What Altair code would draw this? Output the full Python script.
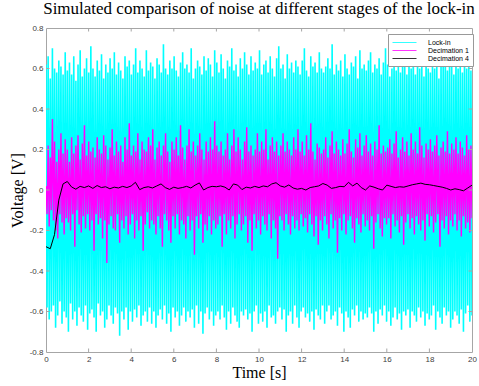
import altair as alt
import pandas as pd
import numpy as np

title_text = "Simulated comparison of noise at different stages of the lock-in"
series_names = ["Lock-in", "Decimation 1", "Decimation 4"]
series_colors = ["#00FFFF", "#FF00FF", "#000000"]
x_ticks = [0, 2, 4, 6, 8, 10, 12, 14, 16, 18, 20]
y_ticks = [-0.8, -0.6, -0.4, -0.2, 0, 0.2, 0.4, 0.6, 0.8]
t_end = 20

lockin = [
    0.62, -0.58, 0.66, -0.64, 0.55, -0.6, 0.7, -0.57, 0.6, -0.68, 0.58, -0.62, 0.64, -0.55, 0.61, -0.66, 0.57, -0.6, 0.68, -0.63,
    0.59, -0.7, 0.63, -0.56, 0.57, -0.64, 0.66, -0.6, 0.54, -0.67, 0.62, -0.58, 0.69, -0.62, 0.56, -0.65, 0.6, -0.57, 0.65, -0.69,
    0.58, -0.61, 0.71, -0.59, 0.6, -0.63, 0.56, -0.7, 0.64, -0.56, 0.59, -0.62, 0.67, -0.6, 0.55, -0.68, 0.62, -0.64, 0.58, -0.57,
    0.65, -0.62, 0.6, -0.66, 0.68, -0.58, 0.57, -0.61, 0.63, -0.72, 0.59, -0.6, 0.55, -0.64, 0.66, -0.58, 0.61, -0.69, 0.64, -0.6,
    0.57, -0.65, 0.62, -0.59, 0.7, -0.63, 0.58, -0.57, 0.64, -0.67, 0.6, -0.62, 0.56, -0.6, 0.69, -0.65, 0.59, -0.58, 0.63, -0.66,
    0.61, -0.6, 0.55, -0.68, 0.65, -0.62, 0.62, -0.59, 0.58, -0.64, 0.72, -0.57, 0.6, -0.66, 0.57, -0.61, 0.64, -0.7, 0.6, -0.58,
    0.66, -0.63, 0.59, -0.6, 0.56, -0.67, 0.63, -0.62, 0.68, -0.58, 0.6, -0.65, 0.62, -0.6, 0.58, -0.63, 0.7, -0.59, 0.55, -0.68,
    0.6, -0.57, 0.64, -0.66, 0.61, -0.6, 0.57, -0.71, 0.66, -0.61, 0.59, -0.58, 0.65, -0.64, 0.62, -0.6, 0.56, -0.67, 0.69, -0.62,
    0.63, -0.6, 0.58, -0.64, 0.67, -0.57, 0.6, -0.63, 0.55, -0.69, 0.64, -0.6, 0.61, -0.66, 0.7, -0.58, 0.59, -0.62, 0.62, -0.65,
    0.56, -0.68, 0.65, -0.6, 0.6, -0.62, 0.68, -0.59, 0.62, -0.64, 0.57, -0.61, 0.66, -0.7, 0.59, -0.6, 0.63, -0.57, 0.6, -0.66,
    0.69, -0.61, 0.57, -0.65, 0.62, -0.6, 0.64, -0.68, 0.58, -0.57, 0.66, -0.63, 0.6, -0.62, 0.56, -0.66, 0.65, -0.6, 0.71, -0.58,
    0.6, -0.64, 0.62, -0.59, 0.55, -0.7, 0.67, -0.62, 0.6, -0.6, 0.63, -0.66, 0.58, -0.57, 0.64, -0.63, 0.61, -0.68, 0.57, -0.6,
    0.64, -0.58, 0.7, -0.63, 0.59, -0.61, 0.56, -0.65, 0.66, -0.6, 0.61, -0.69, 0.63, -0.59, 0.58, -0.62, 0.68, -0.64, 0.6, -0.57,
    0.58, -0.66, 0.61, -0.6, 0.65, -0.57, 0.6, -0.64, 0.72, -0.62, 0.57, -0.6, 0.62, -0.67, 0.59, -0.58, 0.64, -0.61, 0.56, -0.7,
    0.67, -0.6, 0.6, -0.63, 0.57, -0.68, 0.63, -0.59, 0.61, -0.62, 0.66, -0.57, 0.55, -0.65, 0.69, -0.6, 0.6, -0.64, 0.62, -0.61,
    0.59, -0.63, 0.64, -0.58, 0.68, -0.61, 0.58, -0.7, 0.62, -0.6, 0.6, -0.66, 0.65, -0.59, 0.57, -0.62, 0.63, -0.57, 0.7, -0.65,
    0.62, -0.6, 0.56, -0.67, 0.6, -0.63, 0.67, -0.58, 0.59, -0.64, 0.63, -0.61, 0.58, -0.69, 0.66, -0.6, 0.61, -0.62, 0.57, -0.59,
    0.65, -0.68, 0.6, -0.6, 0.71, -0.62, 0.57, -0.65, 0.64, -0.58, 0.6, -0.63, 0.62, -0.6, 0.56, -0.67, 0.68, -0.61, 0.6, -0.64,
    0.58, -0.62, 0.63, -0.57, 0.6, -0.69, 0.66, -0.6, 0.55, -0.63, 0.64, -0.66, 0.61, -0.58, 0.69, -0.62, 0.59, -0.6, 0.65, -0.68,
    0.61, -0.64, 0.57, -0.6, 0.67, -0.62, 0.6, -0.66, 0.63, -0.59, 0.58, -0.7, 0.66, -0.61, 0.6, -0.57, 0.64, -0.65, 0.59, -0.62,
]

decimation1 = [
    0.02, -0.12, 0.22, -0.18, 0.16, -0.1, 0.35, -0.15, 0.24, -0.2, 0.14, -0.24, 0.2, -0.12, 0.28, -0.16, 0.18, -0.22, 0.25, -0.14,
    0.2, -0.16, 0.14, -0.2, 0.26, -0.12, 0.18, -0.28, 0.22, -0.1, 0.27, -0.17, 0.15, -0.21, 0.23, -0.13, 0.32, -0.19, 0.17, -0.12,
    0.24, -0.2, 0.19, -0.15, 0.21, -0.3, 0.16, -0.12, 0.26, -0.17, 0.2, -0.14, 0.18, -0.24, 0.27, -0.15, 0.22, -0.36, 0.15, -0.17,
    0.21, -0.13, 0.3, -0.19, 0.17, -0.2, 0.24, -0.12, 0.19, -0.26, 0.22, -0.15, 0.14, -0.19, 0.26, -0.13, 0.2, -0.22, 0.33, -0.17,
    0.17, -0.12, 0.22, -0.24, 0.19, -0.15, 0.28, -0.2, 0.15, -0.13, 0.24, -0.3, 0.2, -0.17, 0.19, -0.11, 0.26, -0.19, 0.22, -0.15,
    0.3, -0.17, 0.15, -0.22, 0.21, -0.13, 0.24, -0.19, 0.17, -0.28, 0.22, -0.12, 0.28, -0.15, 0.19, -0.2, 0.14, -0.26, 0.24, -0.13,
    0.2, -0.19, 0.26, -0.12, 0.17, -0.22, 0.32, -0.15, 0.21, -0.17, 0.15, -0.24, 0.22, -0.13, 0.3, -0.2, 0.19, -0.15, 0.24, -0.32,
    0.17, -0.13, 0.22, -0.19, 0.28, -0.12, 0.2, -0.26, 0.15, -0.17, 0.24, -0.2, 0.19, -0.13, 0.26, -0.22, 0.2, -0.15, 0.34, -0.19,
    0.22, -0.17, 0.19, -0.13, 0.24, -0.28, 0.17, -0.12, 0.2, -0.22, 0.28, -0.15, 0.15, -0.19, 0.22, -0.13, 0.3, -0.24, 0.19, -0.17,
    0.26, -0.12, 0.2, -0.2, 0.15, -0.17, 0.24, -0.13, 0.31, -0.26, 0.19, -0.15, 0.22, -0.3, 0.17, -0.12, 0.2, -0.19, 0.28, -0.15,
    0.19, -0.22, 0.24, -0.13, 0.2, -0.17, 0.3, -0.2, 0.15, -0.12, 0.22, -0.24, 0.26, -0.15, 0.19, -0.19, 0.24, -0.34, 0.17, -0.13,
    0.22, -0.15, 0.28, -0.2, 0.19, -0.12, 0.24, -0.17, 0.2, -0.22, 0.17, -0.13, 0.26, -0.19, 0.2, -0.15, 0.3, -0.2, 0.19, -0.12,
    0.24, -0.18, 0.17, -0.14, 0.27, -0.21, 0.2, -0.12, 0.33, -0.17, 0.19, -0.23, 0.15, -0.13, 0.23, -0.27, 0.21, -0.15, 0.18, -0.2,
    0.2, -0.13, 0.26, -0.17, 0.16, -0.24, 0.22, -0.12, 0.29, -0.19, 0.18, -0.15, 0.24, -0.31, 0.2, -0.14, 0.17, -0.2, 0.25, -0.12,
    0.18, -0.22, 0.23, -0.15, 0.3, -0.13, 0.19, -0.19, 0.16, -0.26, 0.25, -0.14, 0.21, -0.17, 0.28, -0.21, 0.17, -0.12, 0.22, -0.18,
    0.27, -0.15, 0.19, -0.2, 0.23, -0.13, 0.17, -0.29, 0.24, -0.16, 0.2, -0.12, 0.32, -0.19, 0.18, -0.23, 0.22, -0.14, 0.19, -0.17,
    0.21, -0.14, 0.25, -0.24, 0.18, -0.12, 0.23, -0.18, 0.29, -0.15, 0.16, -0.21, 0.2, -0.13, 0.26, -0.27, 0.19, -0.16, 0.24, -0.12,
    0.17, -0.19, 0.28, -0.14, 0.2, -0.22, 0.24, -0.13, 0.18, -0.17, 0.31, -0.2, 0.22, -0.15, 0.16, -0.25, 0.23, -0.12, 0.2, -0.18,
    0.25, -0.13, 0.19, -0.21, 0.22, -0.16, 0.27, -0.12, 0.17, -0.28, 0.21, -0.15, 0.24, -0.19, 0.19, -0.13, 0.29, -0.22, 0.18, -0.15,
    0.23, -0.18, 0.2, -0.12, 0.26, -0.2, 0.18, -0.15, 0.24, -0.23, 0.21, -0.13, 0.17, -0.19, 0.27, -0.16, 0.2, -0.21, 0.22, -0.14,
]

decimation4 = [
    -0.28, -0.29, -0.22, -0.05, 0.03, 0.042, 0.015, 0.004, 0.018, 0.012,
    0.02, 0.008, 0.022, 0.012, 0.016, 0.006, 0.014, 0.01, 0.018, 0.012,
    0.02, 0.038, 0.002, 0.012, 0.016, 0.01, 0.02, 0.03, 0.012, 0.003,
    0.014, 0.008, 0.012, 0.018, 0.01, 0.024, 0.035, 0.0, 0.012, 0.018,
    0.016, 0.02, 0.014, 0.0, 0.03, 0.024, 0.002, 0.014, 0.01, 0.018,
    0.012, 0.02, 0.016, 0.03, 0.036, 0.02, 0.014, 0.025, 0.01, 0.004,
    0.008, 0.0, 0.012, 0.016, 0.02, 0.032, 0.024, 0.008, 0.012, 0.018,
    0.016, 0.038, 0.02, 0.034, 0.012, 0.0, 0.02, 0.014, 0.006, 0.0,
    0.024, 0.018, 0.012, 0.016, 0.014, 0.02, 0.026, 0.03, 0.034, 0.028,
    0.026, 0.022, 0.018, 0.014, 0.008, 0.0, 0.006, 0.002, -0.004, 0.01,
    0.024,
]

FRAME = "#a6a6a6"
LABEL = "#404040"
SERIF = "Liberation Serif"
SANS = "Liberation Sans"
W, H = 426, 324


def frame(vals, name):
    t = np.linspace(0, t_end, len(vals))
    return pd.DataFrame({"t": t, "v": vals, "s": name})


x_enc = alt.X(
    "t:Q",
    scale=alt.Scale(domain=[0, t_end], nice=False, zero=False),
    axis=alt.Axis(
        values=x_ticks, ticks=False, domain=False, grid=False,
        title="Time [s]", titleFont=SERIF, titleFontSize=16, titleFontWeight="normal",
        titleColor="black", titleBaseline="middle", titleY=20, titleX=W / 2,
        labelFont=SANS, labelFontSize=8, labelColor=LABEL, labelPadding=3,
        labelExpr="toString(datum.value)", labelFlush=False,
    ),
)
y_enc = alt.Y(
    "v:Q",
    scale=alt.Scale(domain=[-0.8, 0.8], nice=False, zero=False),
    axis=alt.Axis(
        values=y_ticks, ticks=False, domain=False, grid=False,
        title="Voltage [V]", titleFont=SERIF, titleFontSize=16, titleFontWeight="normal",
        titleColor="black", titleBaseline="middle", titleX=-29, titleY=H / 2, titleAngle=-90,
        labelFont=SANS, labelFontSize=8, labelColor=LABEL, labelPadding=3,
        labelExpr="toString(datum.value)", labelFlush=False,
    ),
)
color_enc = alt.Color(
    "s:N",
    scale=alt.Scale(domain=series_names, range=series_colors),
    legend=alt.Legend(
        title=None, orient="none", legendX=342, legendY=6,
        fillColor="white", strokeColor="#999999", padding=4,
        labelFont=SANS, labelFontSize=7, labelColor="black",
        symbolType="M-3,0H3", symbolSize=64, symbolStrokeWidth=0.8,
        symbolOffset=8, labelOffset=19, rowPadding=0, labelLimit=80,
    ),
)

widths = {"Lock-in": 1.6, "Decimation 1": 1.4, "Decimation 4": 1}
layers = []
for vals, name in [(lockin, "Lock-in"), (decimation1, "Decimation 1"), (decimation4, "Decimation 4")]:
    layers.append(
        alt.Chart(frame(vals, name)).mark_line(
            strokeWidth=widths[name], strokeJoin="bevel", clip=True
        ).encode(x=x_enc, y=y_enc, color=color_enc)
    )

tick_len = 3.5
xt = pd.DataFrame({"t": x_ticks[1:-1]})
yt = pd.DataFrame({"v": y_ticks[1:-1]})
tick_bottom = alt.Chart(xt).mark_rule(color=FRAME, strokeWidth=1).encode(
    x=x_enc, y=alt.value(H), y2=alt.value(H - tick_len))
tick_top = alt.Chart(xt).mark_rule(color=FRAME, strokeWidth=1).encode(
    x=x_enc, y=alt.value(0), y2=alt.value(tick_len))
tick_left = alt.Chart(yt).mark_rule(color=FRAME, strokeWidth=1).encode(
    y=y_enc, x=alt.value(0), x2=alt.value(tick_len))
tick_right = alt.Chart(yt).mark_rule(color=FRAME, strokeWidth=1).encode(
    y=y_enc, x=alt.value(W), x2=alt.value(W - tick_len))

chart = alt.layer(*layers, tick_bottom, tick_top, tick_left, tick_right).properties(
    width=W, height=H,
    title=alt.TitleParams(
        title_text, font=SERIF, fontSize=17, fontWeight="normal", color="black",
        anchor="middle", offset=6,
    ),
    autosize=alt.AutoSizeParams(type="none"),
    padding={"left": 46, "top": 28, "right": 7, "bottom": 34},
    background="white",
).configure_view(stroke=FRAME, strokeWidth=1)

chart.save("out.html", embed_options={"renderer": "svg", "actions": False})
